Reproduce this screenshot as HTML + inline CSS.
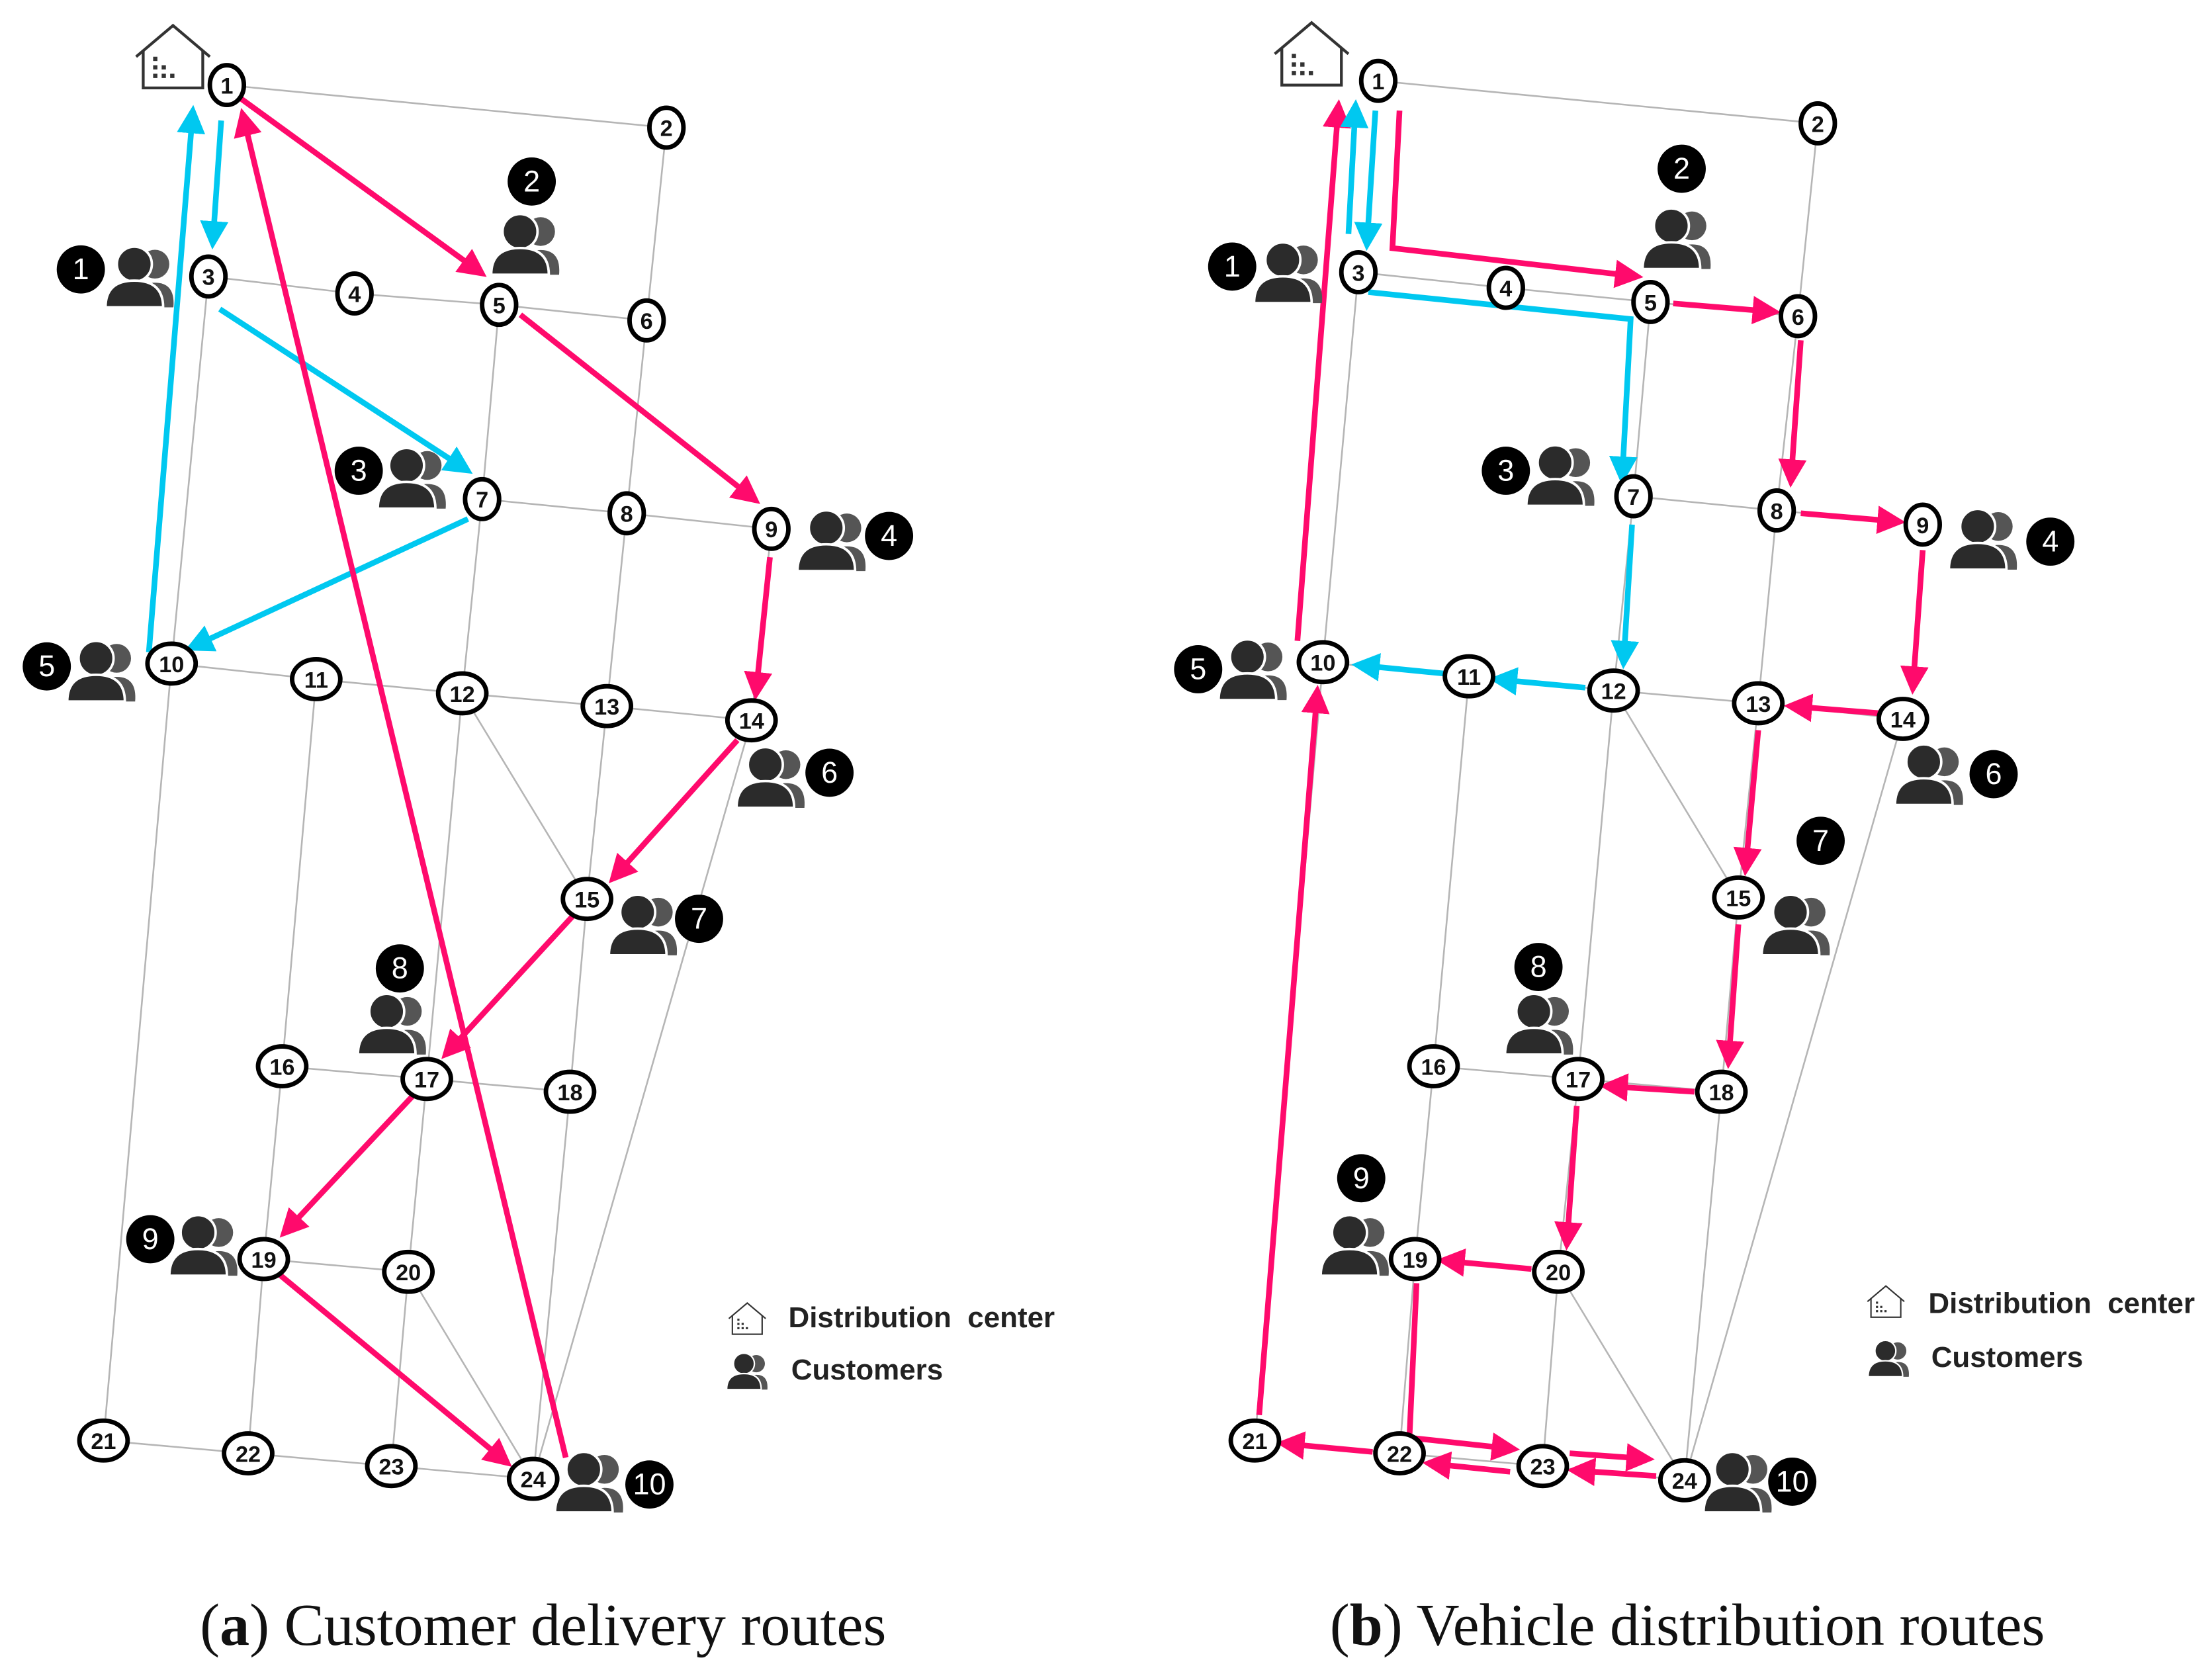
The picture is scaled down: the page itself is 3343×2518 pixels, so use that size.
<!DOCTYPE html>
<html><head><meta charset="utf-8"><style>
html,body{margin:0;padding:0;background:#fff;}
svg{display:block;}
.g{stroke:#b5b5b5;stroke-width:1.2;fill:none;}
.p{stroke:#ff0a6c;stroke-width:4;fill:none;marker-end:url(#ap);}
.c{stroke:#00c8f0;stroke-width:4;fill:none;marker-end:url(#ac);}
.nt{font-family:"Liberation Sans",sans-serif;font-size:16px;font-weight:bold;text-anchor:middle;fill:#111;}
.bt{font-family:"Liberation Sans",sans-serif;font-size:21px;text-anchor:middle;fill:#fff;}
.lt{font-family:"Liberation Sans",sans-serif;font-size:20.5px;font-weight:bold;fill:#222;}
.cap{font-family:"Liberation Serif",serif;font-size:42px;fill:#111;text-anchor:middle;}
</style></head><body>
<svg width="3343" height="2518" viewBox="0 0 1560 1175" xmlns="http://www.w3.org/2000/svg">
<defs>
<marker id="ap" markerWidth="5" markerHeight="5" refX="4" refY="2.5" orient="auto" markerUnits="strokeWidth"><path d="M0,0 L5,2.5 L0,5 Z" fill="#ff0a6c"/></marker>
<marker id="ac" markerWidth="5" markerHeight="5" refX="4" refY="2.5" orient="auto" markerUnits="strokeWidth"><path d="M0,0 L5,2.5 L0,5 Z" fill="#00c8f0"/></marker>
<g id="ppl"><g transform="scale(1.45)">
<circle cx="5" cy="-6" r="7" fill="#555"/><path d="M-3,15 Q-4,3 5,3 Q15,3 14,15 Z" fill="#555"/>
<circle cx="-5" cy="-6" r="8.5" fill="#2b2b2b" stroke="#fff" stroke-width="1.2"/><path d="M-19,15 Q-19,2 -5,2 Q9,2 9,15 Z" fill="#2b2b2b" stroke="#fff" stroke-width="1.2"/>
</g></g>
<g id="house" fill="none" stroke="#333" stroke-width="2">
<path d="M-26,0 L0,-22 L26,0"/><path d="M-21,-4 V22 H21 V-4"/>
<g fill="#333" stroke="none"><rect x="-14" y="0" width="3" height="3"/><rect x="-14" y="6" width="3" height="3"/><rect x="-8" y="6" width="3" height="3"/><rect x="-14" y="12" width="3" height="3"/><rect x="-8" y="12" width="3" height="3"/><rect x="-2" y="12" width="3" height="3"/></g>
</g>
</defs>

<g class="g">
<polyline points="160,60 470,90"/>
<polyline points="147,195 250,207 352,215 456,226"/>
<polyline points="340,352 442,362 544,373"/>
<polyline points="121,468 223,479 326,489 428,498 530,508"/>
<polyline points="199,752 301,761 402,770"/>
<polyline points="186,888 288,897"/>
<polyline points="73,1016 175,1025 276,1034 376,1043"/>
<polyline points="147,195 121,468 73,1016"/>
<polyline points="223,479 199,752 186,888 175,1025"/>
<polyline points="352,215 340,352 326,489 301,761 288,897 276,1034"/>
<polyline points="470,90 456,226 442,362 428,498 414,634 402,770 376,1043"/>
<polyline points="544,373 530,508 376,1043"/>
<polyline points="326,489 414,634"/>
<polyline points="288,897 376,1043"/>
</g>
<line class="c" x1="156" y1="85" x2="150" y2="172"/>
<line class="c" x1="155" y1="218" x2="330" y2="332"/>
<line class="c" x1="330" y1="366" x2="134" y2="457"/>
<line class="c" x1="105" y1="460" x2="136" y2="78"/>
<line class="p" x1="165" y1="66" x2="340" y2="193"/>
<line class="p" x1="367" y1="222" x2="533" y2="353"/>
<line class="p" x1="543" y1="393" x2="533" y2="490"/>
<line class="p" x1="520" y1="522" x2="432" y2="620"/>
<line class="p" x1="404" y1="646" x2="314" y2="744"/>
<line class="p" x1="291" y1="773" x2="200" y2="870"/>
<line class="p" x1="196" y1="898" x2="358" y2="1032"/>
<line class="p" x1="399" y1="1028" x2="171" y2="80"/>

<g class="g">
<polyline points="972,57 1282,87"/>
<polyline points="958,192 1062,203 1164,213 1268,223"/>
<polyline points="1152,350 1253,360 1356,370"/>
<polyline points="933,467 1036,477 1138,487 1240,496 1342,507"/>
<polyline points="1011,752 1113,761 1214,770"/>
<polyline points="998,888 1099,897"/>
<polyline points="885,1016 987,1025 1088,1034 1188,1044"/>
<polyline points="958,192 933,467 885,1016"/>
<polyline points="1036,477 1011,752 998,888 987,1025"/>
<polyline points="1164,213 1152,350 1138,487 1113,761 1099,897 1088,1034"/>
<polyline points="1282,87 1268,223 1253,360 1240,496 1226,633 1214,770 1188,1044"/>
<polyline points="1342,507 1188,1044"/>
<polyline points="1138,487 1226,633"/>
<polyline points="1099,897 1188,1044"/>
</g>
<line class="p" x1="915" y1="452" x2="944" y2="74"/>
<line class="c" x1="951" y1="165" x2="956" y2="74"/>
<line class="c" x1="970" y1="78" x2="964" y2="173"/>
<polyline class="p" points="987,78 982,175 1155,195"/>
<polyline class="c" points="965,206 1150,225 1144,338"/>
<line class="p" x1="1180" y1="214" x2="1252" y2="220"/>
<line class="p" x1="1270" y1="240" x2="1263" y2="340"/>
<line class="p" x1="1270" y1="362" x2="1340" y2="368"/>
<line class="p" x1="1356" y1="388" x2="1349" y2="486"/>
<line class="p" x1="1325" y1="503" x2="1262" y2="498"/>
<line class="p" x1="1240" y1="515" x2="1231" y2="614"/>
<line class="p" x1="1226" y1="652" x2="1219" y2="750"/>
<line class="p" x1="1195" y1="770" x2="1132" y2="766"/>
<line class="p" x1="1112" y1="780" x2="1105" y2="878"/>
<line class="p" x1="1080" y1="895" x2="1017" y2="889"/>
<polyline class="p" points="999,905 994,1014 1068,1022"/>
<line class="p" x1="1107" y1="1025" x2="1163" y2="1029"/>
<line class="p" x1="1168" y1="1041" x2="1109" y2="1037"/>
<line class="p" x1="1065" y1="1038" x2="1007" y2="1032"/>
<line class="p" x1="968" y1="1024" x2="904" y2="1018"/>
<line class="p" x1="888" y1="998" x2="929" y2="487"/>
<line class="c" x1="1151" y1="370" x2="1145" y2="468"/>
<line class="c" x1="1118" y1="485" x2="1054" y2="479"/>
<line class="c" x1="1018" y1="475" x2="957" y2="469"/>

<g>
<g fill="#fff" stroke="#000" stroke-width="3.2">
<ellipse cx="160" cy="60" rx="12" ry="14"/><ellipse cx="470" cy="90" rx="12" ry="14"/><ellipse cx="147" cy="195" rx="12" ry="14"/><ellipse cx="250" cy="207" rx="12" ry="14"/><ellipse cx="352" cy="215" rx="12" ry="14"/><ellipse cx="456" cy="226" rx="12" ry="14"/><ellipse cx="340" cy="352" rx="12" ry="14"/><ellipse cx="442" cy="362" rx="12" ry="14"/><ellipse cx="544" cy="373" rx="12" ry="14"/>
<ellipse cx="121" cy="468" rx="17" ry="14"/><ellipse cx="223" cy="479" rx="17" ry="14"/><ellipse cx="326" cy="489" rx="17" ry="14"/><ellipse cx="428" cy="498" rx="17" ry="14"/><ellipse cx="530" cy="508" rx="17" ry="14"/><ellipse cx="414" cy="634" rx="17" ry="14"/><ellipse cx="199" cy="752" rx="17" ry="14"/><ellipse cx="301" cy="761" rx="17" ry="14"/><ellipse cx="402" cy="770" rx="17" ry="14"/><ellipse cx="186" cy="888" rx="17" ry="14"/><ellipse cx="288" cy="897" rx="17" ry="14"/><ellipse cx="73" cy="1016" rx="17" ry="14"/><ellipse cx="175" cy="1025" rx="17" ry="14"/><ellipse cx="276" cy="1034" rx="17" ry="14"/><ellipse cx="376" cy="1043" rx="17" ry="14"/>
<ellipse cx="972" cy="57" rx="12" ry="14"/><ellipse cx="1282" cy="87" rx="12" ry="14"/><ellipse cx="958" cy="192" rx="12" ry="14"/><ellipse cx="1062" cy="203" rx="12" ry="14"/><ellipse cx="1164" cy="213" rx="12" ry="14"/><ellipse cx="1268" cy="223" rx="12" ry="14"/><ellipse cx="1152" cy="350" rx="12" ry="14"/><ellipse cx="1253" cy="360" rx="12" ry="14"/><ellipse cx="1356" cy="370" rx="12" ry="14"/>
<ellipse cx="933" cy="467" rx="17" ry="14"/><ellipse cx="1036" cy="477" rx="17" ry="14"/><ellipse cx="1138" cy="487" rx="17" ry="14"/><ellipse cx="1240" cy="496" rx="17" ry="14"/><ellipse cx="1342" cy="507" rx="17" ry="14"/><ellipse cx="1226" cy="633" rx="17" ry="14"/><ellipse cx="1011" cy="752" rx="17" ry="14"/><ellipse cx="1113" cy="761" rx="17" ry="14"/><ellipse cx="1214" cy="770" rx="17" ry="14"/><ellipse cx="998" cy="888" rx="17" ry="14"/><ellipse cx="1099" cy="897" rx="17" ry="14"/><ellipse cx="885" cy="1016" rx="17" ry="14"/><ellipse cx="987" cy="1025" rx="17" ry="14"/><ellipse cx="1088" cy="1034" rx="17" ry="14"/><ellipse cx="1188" cy="1044" rx="17" ry="14"/>
</g>
<g class="nt">
<text x="160" y="66">1</text><text x="470" y="96">2</text><text x="147" y="201">3</text><text x="250" y="213">4</text><text x="352" y="221">5</text><text x="456" y="232">6</text><text x="340" y="358">7</text><text x="442" y="368">8</text><text x="544" y="379">9</text>
<text x="121" y="474">10</text><text x="223" y="485">11</text><text x="326" y="495">12</text><text x="428" y="504">13</text><text x="530" y="514">14</text><text x="414" y="640">15</text><text x="199" y="758">16</text><text x="301" y="767">17</text><text x="402" y="776">18</text><text x="186" y="894">19</text><text x="288" y="903">20</text><text x="73" y="1022">21</text><text x="175" y="1031">22</text><text x="276" y="1040">23</text><text x="376" y="1049">24</text>
<text x="972" y="63">1</text><text x="1282" y="93">2</text><text x="958" y="198">3</text><text x="1062" y="209">4</text><text x="1164" y="219">5</text><text x="1268" y="229">6</text><text x="1152" y="356">7</text><text x="1253" y="366">8</text><text x="1356" y="376">9</text>
<text x="933" y="473">10</text><text x="1036" y="483">11</text><text x="1138" y="493">12</text><text x="1240" y="502">13</text><text x="1342" y="513">14</text><text x="1226" y="639">15</text><text x="1011" y="758">16</text><text x="1113" y="767">17</text><text x="1214" y="776">18</text><text x="998" y="894">19</text><text x="1099" y="903">20</text><text x="885" y="1022">21</text><text x="987" y="1031">22</text><text x="1088" y="1040">23</text><text x="1188" y="1050">24</text>
</g>
</g>

<use href="#house" x="122" y="40"/>
<use href="#house" x="925" y="38"/>

<use href="#ppl" x="102" y="195"/><use href="#ppl" x="374" y="172"/><use href="#ppl" x="294" y="337"/><use href="#ppl" x="590" y="381"/><use href="#ppl" x="75" y="473"/><use href="#ppl" x="547" y="548"/><use href="#ppl" x="457" y="652"/><use href="#ppl" x="280" y="722"/><use href="#ppl" x="147" y="878"/><use href="#ppl" x="419" y="1045"/>
<use href="#ppl" x="912" y="192"/><use href="#ppl" x="1186" y="168"/><use href="#ppl" x="1104" y="335"/><use href="#ppl" x="1402" y="380"/><use href="#ppl" x="887" y="472"/><use href="#ppl" x="1364" y="546"/><use href="#ppl" x="1270" y="652"/><use href="#ppl" x="1089" y="722"/><use href="#ppl" x="959" y="878"/><use href="#ppl" x="1229" y="1045"/>

<g fill="#000">
<circle cx="57" cy="190" r="17"/><circle cx="375" cy="128" r="17"/><circle cx="253" cy="332" r="17"/><circle cx="627" cy="378" r="17"/><circle cx="33" cy="470" r="17"/><circle cx="585" cy="545" r="17"/><circle cx="493" cy="648" r="17"/><circle cx="282" cy="683" r="17"/><circle cx="106" cy="874" r="17"/><circle cx="458" cy="1047" r="17"/>
<circle cx="869" cy="188" r="17"/><circle cx="1186" cy="119" r="17"/><circle cx="1062" cy="332" r="17"/><circle cx="1446" cy="382" r="17"/><circle cx="845" cy="472" r="17"/><circle cx="1406" cy="546" r="17"/><circle cx="1284" cy="593" r="17"/><circle cx="1085" cy="682" r="17"/><circle cx="960" cy="831" r="17"/><circle cx="1264" cy="1045" r="17"/>
</g>
<g class="bt">
<text x="57" y="197">1</text><text x="375" y="135">2</text><text x="253" y="339">3</text><text x="627" y="385">4</text><text x="33" y="477">5</text><text x="585" y="552">6</text><text x="493" y="655">7</text><text x="282" y="690">8</text><text x="106" y="881">9</text><text x="458" y="1054">10</text>
<text x="869" y="195">1</text><text x="1186" y="126">2</text><text x="1062" y="339">3</text><text x="1446" y="389">4</text><text x="845" y="479">5</text><text x="1406" y="553">6</text><text x="1284" y="600">7</text><text x="1085" y="689">8</text><text x="960" y="838">9</text><text x="1264" y="1052">10</text>
</g>

<use href="#house" x="527" y="930" transform="translate(527 930) scale(0.5) translate(-527 -930)"/>
<use href="#ppl" x="529" y="967" transform="translate(529 967) scale(0.6) translate(-529 -967)"/>
<text class="lt" x="556" y="936">Distribution&#160; center</text>
<text class="lt" x="558" y="973">Customers</text>
<use href="#house" x="1330" y="918" transform="translate(1330 918) scale(0.5) translate(-1330 -918)"/>
<use href="#ppl" x="1334" y="958" transform="translate(1334 958) scale(0.6) translate(-1334 -958)"/>
<text class="lt" x="1360" y="926">Distribution&#160; center</text>
<text class="lt" x="1362" y="964">Customers</text>

<text class="cap" x="383" y="1160">(<tspan font-weight="bold">a</tspan>) Customer delivery routes</text>
<text class="cap" x="1190" y="1160">(<tspan font-weight="bold">b</tspan>) Vehicle distribution routes</text>
</svg>
</body></html>
